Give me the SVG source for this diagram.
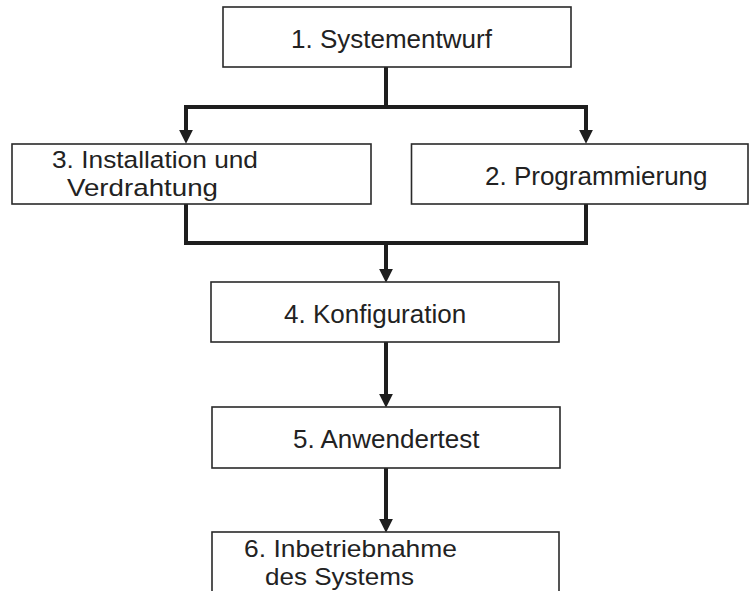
<svg xmlns="http://www.w3.org/2000/svg" width="749" height="591" viewBox="0 0 749 591">
  <style>
    .box { fill: #ffffff; stroke: #2a2a2a; stroke-width: 1.6; }
    .label { font-family: "Liberation Sans", Arial, Helvetica, sans-serif; font-size: 26px; fill: #222222; }
    .two { font-size: 24.5px; }
    .link { fill: none; stroke: #1e1e1e; stroke-width: 4; stroke-linejoin: miter; }
  </style>
  <defs>
    <marker id="arrow" markerUnits="userSpaceOnUse" markerWidth="14" markerHeight="14" viewBox="0 0 13 13" refX="3" refY="6.5" orient="auto">
      <path d="M0,0 L13,6.5 L0,13 Z" fill="#1e1e1e"/>
    </marker>
  </defs>
  <rect width="749" height="591" fill="#ffffff"/>

  <g id="connectors">
    <path class="link" d="M386,67 V107"/>
    <path class="link" d="M388,107 H186 V133" marker-end="url(#arrow)"/>
    <path class="link" d="M384,107 H586 V133" marker-end="url(#arrow)"/>
    <path class="link" d="M186,204 V243 H388"/>
    <path class="link" d="M586,204 V243 H386 V272" marker-end="url(#arrow)"/>
    <path class="link" d="M386,342 V397" marker-end="url(#arrow)"/>
    <path class="link" d="M386,468 V522" marker-end="url(#arrow)"/>
  </g>

  <g id="node1">
    <rect class="box" x="223" y="7" width="348" height="60"/>
    <text class="label" x="291" y="48">1. Systementwurf</text>
  </g>

  <g id="node3">
    <rect class="box" x="12" y="144" width="359" height="60"/>
    <text class="label two" x="52" y="168" textLength="206" lengthAdjust="spacingAndGlyphs">3. Installation und</text>
    <text class="label two" x="67" y="195.5" textLength="151" lengthAdjust="spacingAndGlyphs">Verdrahtung</text>
  </g>

  <g id="node2">
    <rect class="box" x="411.5" y="144" width="336.5" height="60"/>
    <text class="label" x="485" y="185">2. Programmierung</text>
  </g>

  <g id="node4">
    <rect class="box" x="211" y="282" width="348" height="60"/>
    <text class="label" x="284" y="323">4. Konfiguration</text>
  </g>

  <g id="node5">
    <rect class="box" x="212" y="407" width="348" height="61"/>
    <text class="label" x="293" y="448">5. Anwendertest</text>
  </g>

  <g id="node6">
    <rect class="box" x="212" y="532" width="347" height="80"/>
    <text class="label two" x="244" y="557" textLength="213" lengthAdjust="spacingAndGlyphs">6. Inbetriebnahme</text>
    <text class="label two" x="265" y="584.5" textLength="149" lengthAdjust="spacingAndGlyphs">des Systems</text>
  </g>
</svg>
